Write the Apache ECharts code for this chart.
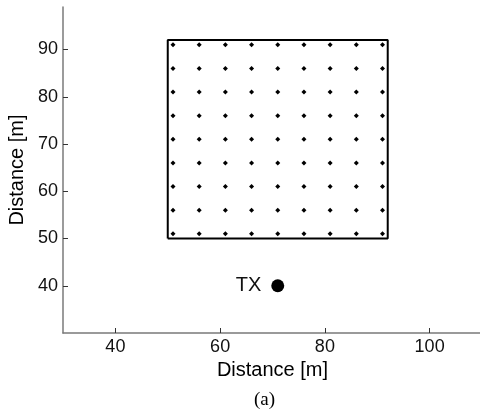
<!DOCTYPE html>
<html>
<head>
<meta charset="utf-8">
<script src="https://cdn.jsdelivr.net/npm/echarts@6/dist/echarts.min.js"></script>
<style>
  html, body { margin: 0; padding: 0; background: #fff; }
  #chart { width: 480px; height: 413px; }
</style>
</head>
<body>
<div id="chart"></div>
<script>
// receiver grid positions (m)
const gridX = [51, 56, 61, 66, 71, 76, 81, 86, 91];
const gridY = [51, 56, 61, 66, 71, 76, 81, 86, 91];
// area boundary corners
const boxX = [50, 92, 92, 50, 50];
const boxY = [50, 50, 92, 92, 50];
// transmitter
const txPos = [71, 40];
const txName = "TX";
const xTicks = [40, 60, 80, 100];
const yTicks = [40, 50, 60, 70, 80, 90];

const points = [];
for (const y of gridY) {
  for (const x of gridX) {
    points.push([x, y]);
  }
}
const box = boxX.map((x, i) => [x, boxY[i]]);

const font = "Liberation Sans, Arial, sans-serif";
const chart = echarts.init(document.getElementById("chart"), null, {
  renderer: "canvas",
});
const option = {
  animation: false,
  title: {
    text: "(a)",
    left: 249,
    top: 386,
    textStyle: {
      fontFamily: "Liberation Serif, Times New Roman, serif",
      fontSize: 19,
      fontWeight: "normal",
      color: "#000",
    },
  },
  grid: {
    left: 63,
    top: 7,
    width: 419,
    height: 326,
    outerBoundsMode: "none",
    containLabel: false,
  },
  xAxis: {
    type: "value",
    min: 30,
    max: 110,
    name: "Distance [m]",
    nameLocation: "middle",
    nameGap: 26,
    nameTextStyle: { fontFamily: font, fontSize: 20, color: "#000" },
    splitLine: { show: false },
    axisLine: { lineStyle: { color: "#7a7a7a", width: 1.5 } },
    axisTick: {
      inside: true,
      length: 5,
      customValues: xTicks,
      lineStyle: { color: "#333" },
    },
    axisLabel: {
      customValues: xTicks,
      margin: 5,
      fontFamily: font,
      fontSize: 18,
      color: "#111",
    },
  },
  yAxis: {
    type: "value",
    min: 30,
    max: 99,
    name: "Distance [m]",
    nameLocation: "middle",
    nameGap: 29,
    nameTextStyle: { fontFamily: font, fontSize: 20, color: "#000" },
    splitLine: { show: false },
    axisLine: { lineStyle: { color: "#7a7a7a", width: 1.5 } },
    axisTick: {
      inside: true,
      length: 5,
      customValues: yTicks,
      lineStyle: { color: "#333" },
    },
    axisLabel: {
      customValues: yTicks,
      margin: 5,
      fontFamily: font,
      fontSize: 18,
      color: "#111",
    },
  },
  series: [
    {
      type: "line",
      data: box,
      symbol: "none",
      lineStyle: { color: "#000", width: 2 },
      z: 2,
    },
    {
      type: "scatter",
      data: points,
      symbol: "diamond",
      symbolSize: 5,
      itemStyle: { color: "#000", opacity: 1 },
      z: 3,
    },
    {
      type: "scatter",
      data: [txPos],
      symbol: "circle",
      symbolSize: 13,
      itemStyle: { color: "#000", opacity: 1 },
      label: {
        show: true,
        position: "left",
        distance: 10,
        formatter: txName,
        fontFamily: font,
        fontSize: 20,
        color: "#111",
      },
      z: 3,
    },
  ],
};
chart.setOption(option);
</script>
</body>
</html>
